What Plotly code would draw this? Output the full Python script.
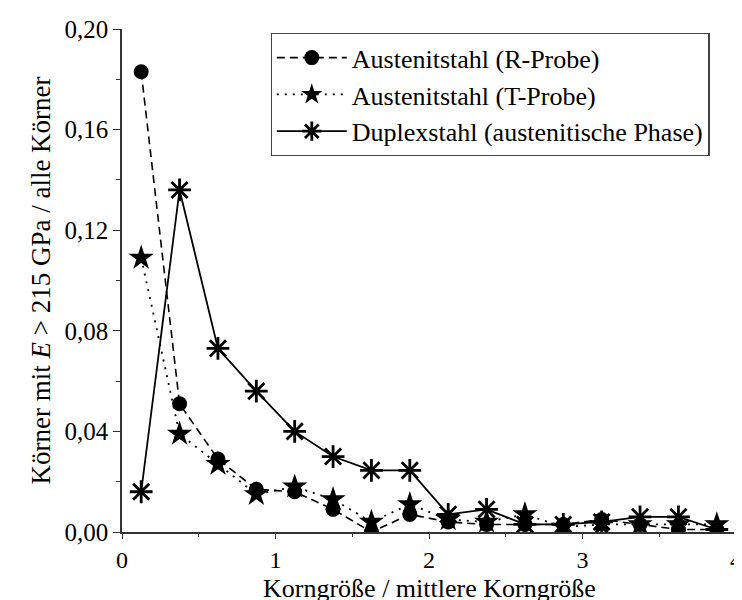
import plotly.graph_objects as go

x_vals = [0.125, 0.375, 0.625, 0.875, 1.125, 1.375, 1.625, 1.875,
          2.125, 2.375, 2.625, 2.875, 3.125, 3.375, 3.625, 3.875]
r_probe = [0.183, 0.051, 0.029, 0.017, 0.016, 0.009, 0.000, 0.007,
           0.004, 0.003, 0.003, 0.003, 0.005, 0.003, 0.001, 0.001]
t_probe = [0.109, 0.039, 0.027, 0.015, 0.018, 0.013, 0.004, 0.011,
           0.005, 0.004, 0.007, 0.002, 0.003, 0.003, 0.003, 0.003]
duplex = [0.016, 0.136, 0.073, 0.056, 0.040, 0.030, 0.0245, 0.0245,
          0.007, 0.009, 0.003, 0.003, 0.004, 0.006, 0.006, 0.001]

names = ["Austenitstahl (R-Probe)", "Austenitstahl (T-Probe)",
         "Duplexstahl (austenitische Phase)"]
y_ticks = [0.0, 0.04, 0.08, 0.12, 0.16, 0.20]
x_ticks = [0, 1, 2, 3, 4]
x_title = "Korngröße / mittlere Korngröße"
y_title = "Körner mit <i>E</i> > 215 GPa / alle Körner"

FONT = "Liberation Serif, Times New Roman, serif"

fig = go.Figure()
fig.add_trace(go.Scatter(
    x=x_vals, y=r_probe, name=names[0], mode="lines+markers",
    line=dict(color="black", width=1.6, dash="8px,5px"),
    marker=dict(symbol="circle", size=15, color="black"),
))
fig.add_trace(go.Scatter(
    x=x_vals, y=t_probe, name=names[1], mode="lines+markers",
    line=dict(color="black", width=1.8, dash="2px,6px"),
    marker=dict(symbol="star", size=19, color="black"),
))
fig.add_trace(go.Scatter(
    x=x_vals, y=duplex, name=names[2], mode="lines+markers",
    line=dict(color="black", width=1.8),
    marker=dict(symbol="asterisk-open", size=19, color="black",
                line=dict(color="black", width=2.8)),
))

fig.update_layout(
    width=742, height=600,
    margin=dict(l=114, r=8, t=17, b=76),
    paper_bgcolor="white", plot_bgcolor="white",
    font=dict(family=FONT, size=26, color="black"),
    separators=", ",
    showlegend=True,
    legend=dict(
        x=0.242, y=0.992, xanchor="left", yanchor="top",
        bordercolor="#444", borderwidth=1.2, bgcolor="white",
        font=dict(family=FONT, size=26, color="black"),
        itemwidth=70, tracegroupgap=0,
    ),
    annotations=[dict(
        text=x_title, xref="paper", yref="paper", x=0.5, y=-(598 - 524) / 507,
        xanchor="center", yanchor="bottom", showarrow=False,
        font=dict(family=FONT, size=26, color="black"),
    )],
)
fig.update_xaxes(
    range=[0, 4], tickvals=x_ticks, ticktext=[str(v) for v in x_ticks],
    ticklabeloverflow="allow",
    showgrid=False, zeroline=False, showline=True, linecolor="#333", linewidth=1.5,
    ticks="outside", ticklen=5, tickwidth=1.3, tickcolor="#333",
    minor=dict(ticks="outside", ticklen=3, tickcolor="#333", dtick=0.5, showgrid=False),
    tickfont=dict(size=24),
)
fig.update_yaxes(
    range=[0, 0.20], tickvals=y_ticks, tickformat=".2f",
    ticklabeloverflow="allow",
    showgrid=False, zeroline=False, showline=True, linecolor="#333", linewidth=1.5,
    ticks="outside", ticklen=7, tickwidth=1.3, tickcolor="#333",
    minor=dict(ticks="outside", ticklen=4, tickcolor="#333", dtick=0.02, showgrid=False),
    tickfont=dict(size=25),
    title=dict(text=y_title, font=dict(size=27), standoff=6),
)

fig.write_html("out.html")
